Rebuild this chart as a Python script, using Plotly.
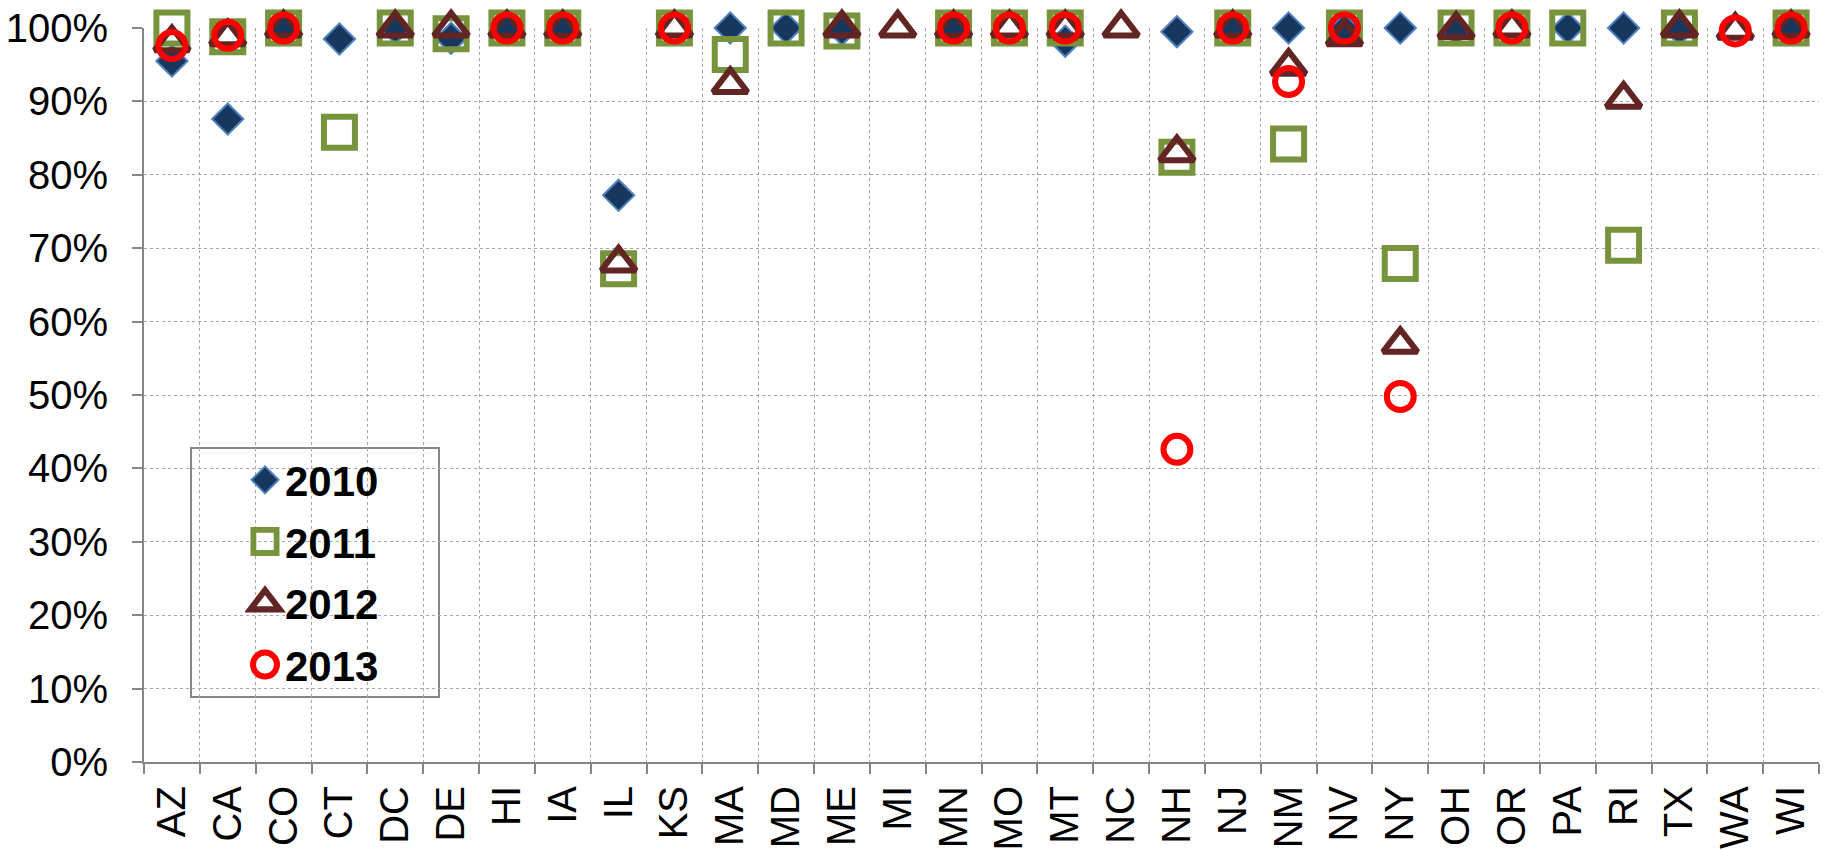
import plotly.graph_objects as go

states = ["AZ", "CA", "CO", "CT", "DC", "DE", "HI", "IA", "IL", "KS", "MA", "MD", "ME", "MI", "MN",
          "MO", "MT", "NC", "NH", "NJ", "NM", "NV", "NY", "OH", "OR", "PA", "RI", "TX", "WA", "WI"]

y2010 = [0.955, 0.876, 1.000, 0.985, 1.000, 0.986, 1.000, 1.000, 0.772, None, 1.000, 1.000, 0.998, None, 1.000,
         None, 0.982, None, 0.995, 1.000, 1.000, 0.998, 1.000, 0.998, None, 1.000, 1.000, 0.998, None, 1.000]
y2011 = [1.000, 0.988, 1.000, 0.858, 1.000, 0.992, 1.000, 1.000, 0.672, 1.000, 0.964, 1.000, 0.996, None, 1.000,
         1.000, 1.000, None, 0.824, 1.000, 0.842, 1.000, 0.679, 1.000, 1.000, 1.000, 0.704, 1.000, None, 1.000]
y2012 = [0.980, 0.988, 1.000, None, 1.000, 1.000, 1.000, 1.000, 0.680, 1.000, 0.923, None, 1.000, 1.000, 1.000,
         1.000, 1.000, 1.000, 0.830, 1.000, 0.948, 0.988, 0.569, 0.998, 1.000, None, 0.903, 1.000, 0.997, 1.000]
y2013 = [0.976, 0.990, 1.000, None, None, None, 1.000, 1.000, None, 1.000, None, None, None, None, 1.000,
         1.000, 1.000, None, 0.426, 1.000, 0.927, 1.000, 0.498, None, 1.000, None, None, None, 0.996, 1.000]

FONT = "Liberation Sans, Arial, sans-serif"
AX = "#868686"
GRID = "#A6A6A6"

fig = go.Figure()
fig.add_trace(go.Scatter(x=states, y=y2010, name="2010", legendgroup="a", mode="markers", cliponaxis=False,
                         marker=dict(symbol="diamond", size=24, color="#17375E",
                                     line=dict(color="#4F81BD", width=2))))
fig.add_trace(go.Scatter(x=states, y=y2011, name="2011", legendgroup="b", mode="markers", cliponaxis=False,
                         marker=dict(symbol="square-open", size=31, color="#77933C",
                                     line=dict(color="#77933C", width=6))))
fig.add_trace(go.Scatter(x=states, y=y2012, name="2012", legendgroup="c", mode="markers", cliponaxis=False,
                         marker=dict(symbol="triangle-up-open", size=30, color="#632523",
                                     line=dict(color="#632523", width=6))))
fig.add_trace(go.Scatter(x=states, y=y2013, name="2013", legendgroup="d", mode="markers", cliponaxis=False,
                         marker=dict(symbol="circle-open", size=27, color="#FF0000",
                                     line=dict(color="#FF0000", width=6))))

fig.update_layout(
    width=1826, height=850,
    margin=dict(l=144, r=7, t=28, b=88, autoexpand=False),
    paper_bgcolor="white", plot_bgcolor="white",
    font=dict(family=FONT, color="black", size=40),
    showlegend=True,
    legend=dict(x=(245 - 144) / 1675, xanchor="left", y=(762 - 446) / 734, yanchor="top",
                bgcolor="rgba(0,0,0,0)", borderwidth=0, tracegroupgap=4,
                font=dict(family=FONT, size=42, color="black", weight="bold"),
                itemsizing="trace"),
    shapes=[dict(type="rect", xref="paper", yref="paper",
                 x0=(191 - 144) / 1675, x1=(439 - 144) / 1675,
                 y0=(762 - 697) / 734, y1=(762 - 448) / 734,
                 line=dict(color=AX, width=2), fillcolor="white", layer="below")],
)
fig.update_xaxes(type="category", categoryorder="array", categoryarray=states,
                 range=[-0.5, len(states) - 0.5], autorange=False, automargin=False,
                 tickson="boundaries", ticks="outside", ticklen=10, tickwidth=2, tickcolor=AX,
                 showline=True, linecolor=AX, linewidth=2,
                 showgrid=True, gridcolor=GRID, gridwidth=1, griddash="dot",
                 tickangle=-90, ticklabelstandoff=6,
                 tickfont=dict(size=40, family=FONT, color="black"))
fig.update_yaxes(range=[0, 1], autorange=False, dtick=0.1, tickformat=".0%", automargin=False,
                 ticks="outside", ticklen=10, tickwidth=2, tickcolor=AX,
                 showline=True, linecolor=AX, linewidth=2,
                 showgrid=True, gridcolor=GRID, gridwidth=1, griddash="dot",
                 zeroline=False, ticklabelstandoff=16,
                 tickfont=dict(size=40, family=FONT, color="black"))

post = """
document.body.style.margin = '0';
document.body.style.padding = '0';
(function(){
  var gd = document.getElementById('{plot_id}');
  var scales = [1.3, 1.45, 1.6, 1.5];
  var strokes = [1.5, 4.0, 3.8, 4.0];
  var groups = gd.querySelectorAll('.legend .traces');
  groups.forEach(function(g, i){
    g.querySelectorAll('path.scatterpts').forEach(function(p){
      p.setAttribute('transform', 'translate(20,0) scale(' + scales[i] + ')');
      p.style.strokeWidth = strokes[i] + 'px';
    });
  });
})();
"""

fig.write_html("out.html", post_script=post, config={"displayModeBar": False})
